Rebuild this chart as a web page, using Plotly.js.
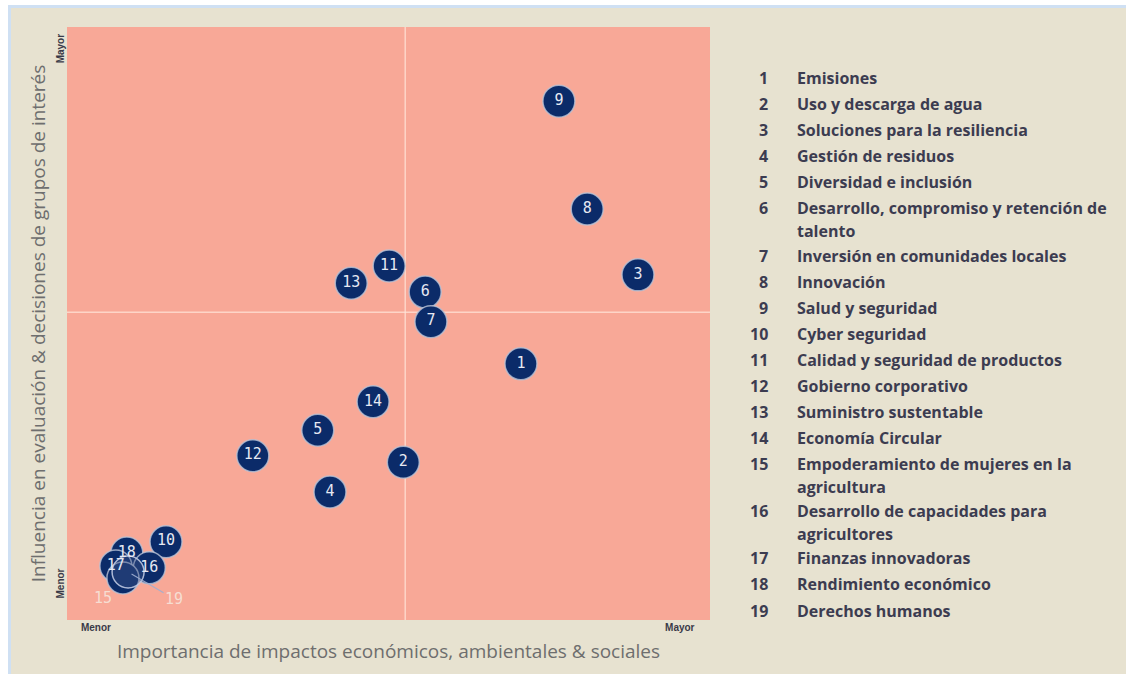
<!DOCTYPE html>
<html>
<head>
<meta charset="utf-8">
<script src="https://cdn.plot.ly/plotly-3.0.1.min.js"></script>
<style>
  html, body { margin: 0; padding: 0; background: #ffffff; }
  #wrap {
    position: absolute; left: 8px; top: 5px;
    width: 1115px; height: 666px;
    border-left: 3px solid #cfe0f3; border-top: 3px solid #cfe0f3;
    background: #e7e2d0;
  }
  #plot { width: 1115px; height: 666px; }
</style>
</head>
<body>
<div id="wrap"><div id="plot"></div></div>
<script>
// temas materiales: id, importancia (x), influencia (y)
var ids = ["1","2","3","4","5","6","7","8","9","10","11","12","13","14","18","16","17","15","19"];
var impX = [7.06, 5.23, 8.88, 4.09, 3.90, 5.57, 5.66, 8.09, 7.65, 1.54, 5.01, 2.89, 4.42, 4.76, 0.93, 1.28, 0.76, 0.87, 0.95];
var infY = [4.32, 2.66, 5.82, 2.16, 3.20, 5.53, 5.03, 6.93, 8.75, 1.32, 5.97, 2.77, 5.68, 3.68, 1.13, 0.88, 0.91, 0.71, 0.81];

var temaNums = ["1","2","3","4","5","6","7","8","9","10","11","12","13","14","15","16","17","18","19"];
var temaNames = [
  ["Emisiones"],
  ["Uso y descarga de agua"],
  ["Soluciones para la resiliencia"],
  ["Gestión de residuos"],
  ["Diversidad e inclusión"],
  ["Desarrollo, compromiso y retención de", "talento"],
  ["Inversión en comunidades locales"],
  ["Innovación"],
  ["Salud y seguridad"],
  ["Cyber seguridad"],
  ["Calidad y seguridad de productos"],
  ["Gobierno corporativo"],
  ["Suministro sustentable"],
  ["Economía Circular"],
  ["Empoderamiento de mujeres en la", "agricultura"],
  ["Desarrollo de capacidades para", "agricultores"],
  ["Finanzas innovadoras"],
  ["Rendimiento económico"],
  ["Derechos humanos"]
];

var xTicks = ["Menor", "Mayor"];
var yTicks = ["Menor", "Mayor"];

var navy = "#0b2b69";
var colors = ids.map(function(d){ return d === "19" ? "rgba(70,90,140,0.35)" : navy; });
var lineColors = ids.map(function(d){ return d === "19" ? "rgba(190,200,225,0.9)" : "rgba(185,195,215,0.8)"; });
var inner = ids.map(function(d){ return (d === "15" || d === "19") ? "" : d; });

var trace = {
  x: impX,
  y: infY,
  text: inner,
  mode: "markers+text",
  type: "scatter",
  textposition: "middle center",
  textfont: {family: "DejaVu Sans Mono, monospace", size: 15, color: "#e6e8f2"},
  marker: {size: 32, color: colors, line: {color: lineColors, width: 1.5}},
  hoverinfo: "skip",
  showlegend: false
};

// leyenda de temas (texto a la derecha)
var legFont = {family: "Open Sans, sans-serif", size: 16, weight: 700, color: "#3c3c50"};
var annotations = [];
var py = 78;
function toPaper(p) { return (612 - (p - 8)) / 593; }
for (var i = 0; i < temaNums.length; i++) {
  annotations.push({
    xref: "paper", yref: "paper", x: 1.0935, y: toPaper(py),
    xanchor: "right", yanchor: "middle", showarrow: false,
    text: temaNums[i], font: legFont
  });
  for (var j = 0; j < temaNames[i].length; j++) {
    annotations.push({
      xref: "paper", yref: "paper", x: 1.132, y: toPaper(py + j * 23),
      xanchor: "left", yanchor: "middle", showarrow: false,
      text: temaNames[i][j], font: legFont
    });
  }
  py += temaNames[i].length > 1 ? 47 : 26.1;
}

// etiquetas externas de 15 y 19
var i15 = ids.indexOf("15"), i19 = ids.indexOf("19");
annotations.push({
  x: impX[i15], y: infY[i15], xref: "x", yref: "y",
  text: "15", showarrow: false, xshift: -20, yshift: -20,
  font: {family: "DejaVu Sans Mono, monospace", size: 15, color: "#f6ddd2"}
});
annotations.push({
  x: impX[i19], y: infY[i19], xref: "x", yref: "y",
  text: "19", showarrow: true, arrowhead: 0, arrowwidth: 1.2,
  arrowcolor: "rgba(160,175,210,0.9)", ax: 46, ay: 27, standoff: 4,
  font: {family: "DejaVu Sans Mono, monospace", size: 15, color: "#f6ddd2"}
});

var layout = {
  width: 1115,
  height: 666,
  margin: {l: 56, r: 416, t: 19, b: 54},
  paper_bgcolor: "#e7e2d0",
  plot_bgcolor: "#f8a897",
  xaxis: {
    range: [0, 10], showgrid: false, zeroline: false, showline: false,
    tickvals: [0.45, 9.53], ticktext: xTicks, ticks: "",
    tickfont: {family: "Liberation Sans Narrow, Liberation Sans, sans-serif", size: 10, weight: 700, color: "#3a3a48"},
    title: {text: "Importancia de impactos económicos, ambientales & sociales", standoff: 12,
            font: {family: "Open Sans, sans-serif", size: 19, color: "#6e6e6e"}},
    fixedrange: true
  },
  yaxis: {
    range: [0, 10], showgrid: false, zeroline: false, showline: false,
    tickvals: [0.59, 9.61], ticktext: yTicks, ticks: "", tickangle: -90,
    tickfont: {family: "Liberation Sans Narrow, Liberation Sans, sans-serif", size: 10, weight: 700, color: "#3a3a48"},
    title: {text: "Influencia en evaluación & decisiones de grupos de interés", standoff: 4,
            font: {family: "Open Sans, sans-serif", size: 19, color: "#6e6e6e"}},
    fixedrange: true
  },
  shapes: [
    {type: "line", xref: "x", yref: "paper", x0: 5.26, x1: 5.26, y0: 0, y1: 1,
     line: {color: "rgba(255,228,216,0.75)", width: 1.5}, layer: "below"},
    {type: "line", xref: "paper", yref: "y", x0: 0, x1: 1, y0: 5.19, y1: 5.19,
     line: {color: "rgba(255,228,216,0.75)", width: 1.5}, layer: "below"}
  ],
  annotations: annotations
};

Plotly.newPlot("plot", [trace], layout, {displayModeBar: false, staticPlot: true});
</script>
</body>
</html>
